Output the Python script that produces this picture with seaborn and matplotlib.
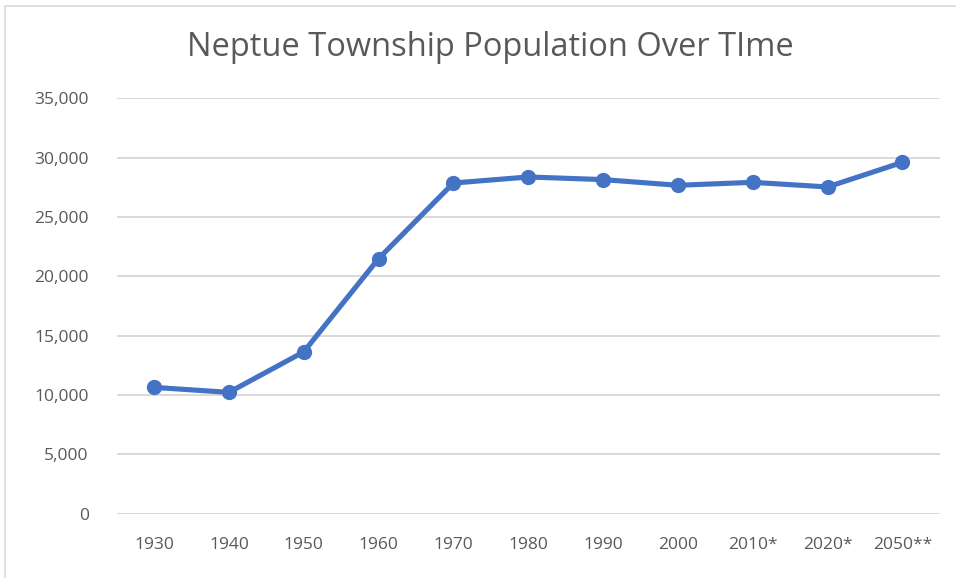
import pandas as pd
import matplotlib.pyplot as plt
import seaborn as sns
from matplotlib.ticker import FuncFormatter
from matplotlib.patches import Rectangle

# Population values
years = ["1930", "1940", "1950", "1960", "1970", "1980", "1990", "2000", "2010*", "2020*", "2050**"]
population = [10650, 10230, 13640, 21490, 27860, 28370, 28150, 27670, 27920, 27530, 29600]

df = pd.DataFrame({"year": years, "population": population})

sns.set_style("white")
plt.rcParams['font.family'] = ['Open Sans', 'DejaVu Sans']

fig = plt.figure(figsize=(9.56, 5.78), dpi=100)
ax = fig.add_axes([0.122, 0.111, 0.861, 0.719])

sns.lineplot(data=df, x="year", y="population", ax=ax, color="#4472C4",
             linewidth=3.7, marker="o", markersize=11, markeredgewidth=0, sort=False)

ax.set_xlim(-0.5, len(years) - 0.5)
ax.set_ylim(0, 35000)
ax.set_yticks(range(0, 35001, 5000))
ax.yaxis.set_major_formatter(FuncFormatter(lambda v, p: f"{int(v):,}"))
ax.grid(axis="y", color="#D9D9D9", linewidth=1.4)
ax.set_axisbelow(True)
for s in ax.spines.values():
    s.set_visible(False)
ax.tick_params(axis="both", length=0, labelsize=12.5, colors="#595959")
ax.tick_params(axis="x", pad=17)
ax.tick_params(axis="y", pad=20)
ax.set_xlabel("")
ax.set_ylabel("")

fig.text(0.513, 0.917, "Neptue Township Population Over TIme", ha="center", va="center",
         fontsize=23.5, color="#595959")

# chart area border
fig.patches.append(Rectangle((0.005, -0.01), 1.1, 1.0, transform=fig.transFigure,
                             fill=False, edgecolor="#D9D9D9", linewidth=1.2))

plt.savefig("out.png", dpi=100)
